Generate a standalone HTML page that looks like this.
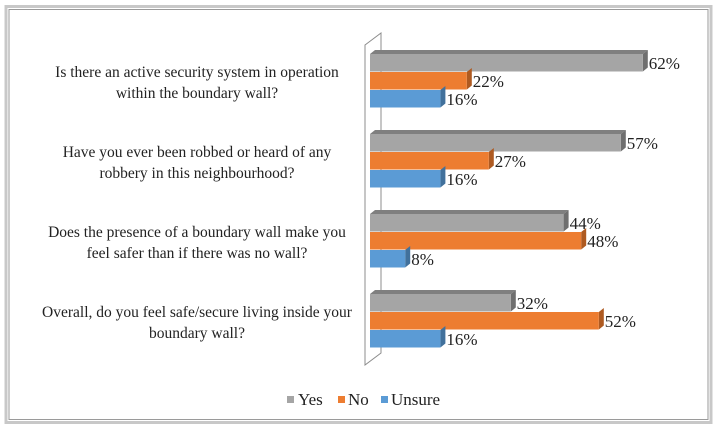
<!DOCTYPE html>
<html><head><meta charset="utf-8"><style>
html,body{margin:0;padding:0;background:#fff;}
svg text{font-family:"Liberation Serif","Times New Roman",serif;}
</style></head><body>
<svg id="chart" width="717" height="430" viewBox="0 0 717 430">
<rect x="6" y="6.5" width="705" height="416" fill="none" stroke="#c8c8c8" stroke-width="3"/>
<rect x="9" y="9.5" width="699" height="410" fill="#fff" stroke="#9a9a9a" stroke-width="1"/>
<polygon points="365,45 381,33 381,353 365,365" fill="#fff" stroke="#8c8c8c" stroke-width="1"/>
<g id="bars"></g>
<g id="labels"></g>
<g id="legend">
<rect x="287" y="396" width="7" height="7" fill="#a5a5a5"/>
<text x="298" y="405" font-size="17" font-family="Liberation Serif, serif" fill="#222">Yes</text>
<rect x="338" y="396" width="7" height="7" fill="#ed7d31"/>
<text x="348" y="405" font-size="17" font-family="Liberation Serif, serif" fill="#222">No</text>
<rect x="381" y="396" width="7" height="7" fill="#5b9bd5"/>
<text x="391" y="405" font-size="17" font-family="Liberation Serif, serif" fill="#222">Unsure</text>
</g>
</svg>
<script>
const categories = [
 ["Is there an active security system in operation","within the boundary wall?"],
 ["Have you ever been robbed or heard of any","robbery in this neighbourhood?"],
 ["Does the presence of a boundary wall make you","feel safer than if there was no wall?"],
 ["Overall, do you feel safe/secure living inside your","boundary wall?"]
];
const yesValues = [62, 57, 44, 32];
const noValues = [22, 27, 48, 52];
const unsureValues = [16, 16, 8, 16];
const seriesNames = ["yes","no","unsure"];

const NS = "http://www.w3.org/2000/svg";
const x0 = 370, pxPer = 4.4;
function xScale(v){ return x0 + v*pxPer; }
function groupY(i){ return 54 + i*80; }
const barH = 17.5, gap = 0.5;
const fills = ["#a5a5a5","#ed7d31","#5b9bd5"];
const sides = ["#6f6f6f","#ae5a21","#41719c"];
const tops = ["#7f7f7f","#c0631f","#4a80b5"];
const bars = document.getElementById("bars");
const labels = document.getElementById("labels");
function mk(tag, attrs){ const e=document.createElementNS(NS,tag); for(const k in attrs) e.setAttribute(k,attrs[k]); return e; }
const all = [yesValues, noValues, unsureValues];
categories.forEach((cat, i) => {
  const gy = groupY(i);
  all.forEach((vals, s) => {
    const v = vals[i];
    const y = gy + s*(barH+gap);
    const xe = xScale(v);
    const g = mk("g",{});
    
    
    const d = 5;
    if (s === 0) {
      g.appendChild(mk("polygon",{points:`${x0},${y} ${x0+d},${y-4} ${xe+d},${y-4} ${xe},${y}`, fill:tops[s]}));
    }
    g.appendChild(mk("polygon",{points:`${xe},${y} ${xe+d},${y-4} ${xe+d},${y+barH-4} ${xe},${y+barH}`, fill:sides[s]}));
    g.appendChild(mk("rect",{x:x0, y:y, width:xe-x0, height:barH, fill:fills[s]}));
    bars.appendChild(g);
    const t = mk("text",{x:xe+6, y:y+barH/2+6, "font-size":"17", "font-family":"Liberation Serif, serif", fill:"#222"});
    
    
    t.textContent = v + "%";
    labels.appendChild(t);
  });
  const cy = gy + 27;
  cat.forEach((line, k) => {
    const t = mk("text",{x:197, y:cy - 4 + k*21, "font-size":"15.5", "font-family":"Liberation Serif, serif", fill:"#222", "text-anchor":"middle"});
    
    
    t.textContent = line;
    labels.appendChild(t);
  });
});
</script>
</body></html>
